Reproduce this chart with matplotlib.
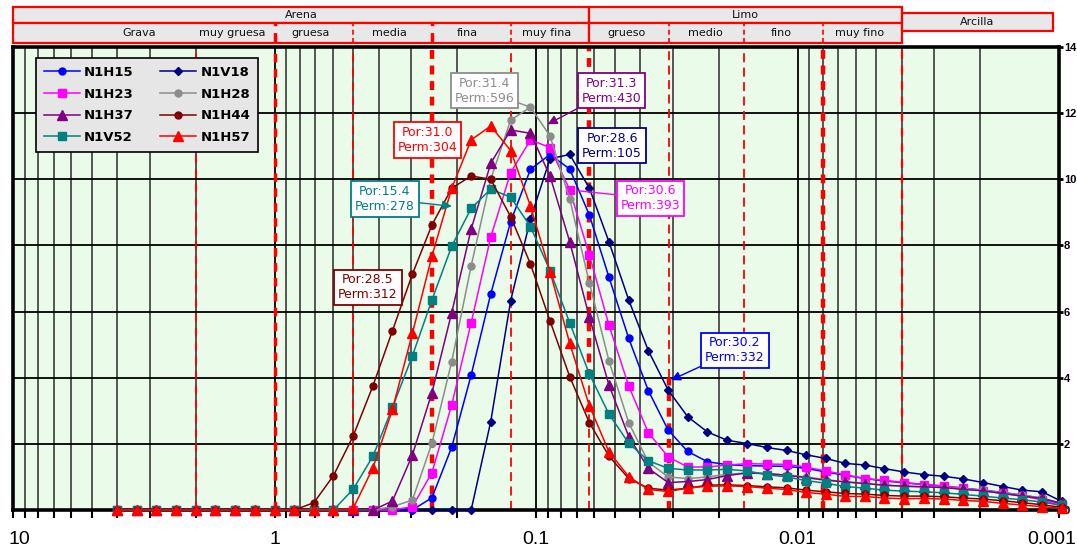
import matplotlib
matplotlib.use("Agg")
import matplotlib.pyplot as plt
import matplotlib.transforms as mtrans
from matplotlib.patches import Rectangle
from matplotlib.ticker import FixedLocator, LogLocator, NullFormatter, FixedFormatter

# grain size classes (mm), quarter-phi steps
size_mm = [4.0, 3.364, 2.828, 2.378, 2.0, 1.682, 1.414, 1.189, 1.0, 0.841, 0.707, 0.595,
           0.5, 0.420, 0.354, 0.297, 0.25, 0.210, 0.177, 0.149, 0.125, 0.105, 0.0884, 0.0743,
           0.0625, 0.0526, 0.0442, 0.0372, 0.03125, 0.0263, 0.0221, 0.0186, 0.0156, 0.0131,
           0.0110, 0.00929, 0.00781, 0.00657, 0.00552, 0.00465, 0.00391, 0.00328, 0.00276,
           0.00232, 0.00195, 0.00164, 0.00138, 0.00116, 0.000977]

N1H15 = [0]*16 + [0.37, 1.9, 4.08, 6.53, 8.72, 10.3, 10.75, 10.31, 8.92, 7.04,
                  5.19, 3.61, 2.42, 1.77, 1.46, 1.37, 1.34, 1.33, 1.32, 1.26,
                  1.15, 1.05, 0.95, 0.88, 0.82, 0.77, 0.72, 0.66, 0.6, 0.53,
                  0.45, 0.35, 0.18]
N1V18 = [0]*19 + [2.67, 6.33, 8.8, 10.62, 10.75, 9.73, 8.11, 6.35, 4.82, 3.63,
                  2.82, 2.36, 2.11, 2.01, 1.89, 1.80, 1.67, 1.56, 1.41, 1.36,
                  1.25, 1.15, 1.07, 1.02, 0.94, 0.83, 0.71, 0.60, 0.55, 0.26]
N1H23 = [0]*15 + [0.1, 1.13, 3.18, 5.66, 8.25, 10.2, 11.19, 10.96, 9.68, 7.71,
                  5.59, 3.75, 2.34, 1.61, 1.3, 1.3, 1.36, 1.4, 1.39, 1.38,
                  1.3, 1.18, 1.07, 0.95, 0.9, 0.83, 0.77, 0.73, 0.66, 0.58,
                  0.5, 0.42, 0.31, 0.12]
N1H28 = [0]*14 + [0.1, 0.3, 2.02, 4.49, 7.38, 10.0, 11.79, 12.18, 11.31, 9.4,
                  6.87, 4.51, 2.64, 1.45, 1.0, 0.95, 1.0, 1.08, 1.12, 1.1,
                  1.06, 1.0, 0.92, 0.85, 0.8, 0.75, 0.72, 0.7, 0.68, 0.64,
                  0.6, 0.52, 0.45, 0.36, 0.2]
N1H37 = [0]*14 + [0.27, 1.66, 3.55, 5.97, 8.49, 10.48, 11.49, 11.39, 10.1, 8.11,
                  5.83, 3.78, 2.22, 1.26, 0.83, 0.86, 0.92, 1.04, 1.12, 1.1,
                  1.05, 0.98, 0.9, 0.85, 0.8, 0.75, 0.72, 0.7, 0.68, 0.62,
                  0.58, 0.5, 0.42, 0.35, 0.2]
N1H44 = [0]*10 + [0.22, 1.04, 2.24, 3.76, 5.42, 7.13, 8.62, 9.73, 10.1, 10.0,
                  8.87, 7.44, 5.72, 4.03, 2.64, 1.63, 0.95, 0.66, 0.6, 0.66,
                  0.75, 0.76, 0.74, 0.7, 0.67, 0.6, 0.55, 0.5, 0.48, 0.44,
                  0.42, 0.42, 0.4, 0.36, 0.33, 0.28, 0.22, 0.16, 0.08]
N1V52 = [0]*12 + [0.63, 1.63, 3.1, 4.66, 6.35, 7.98, 9.12, 9.7, 9.46, 8.57,
                  7.24, 5.66, 4.11, 2.9, 2.02, 1.49, 1.26, 1.21, 1.21, 1.23,
                  1.18, 1.07, 1.0, 0.89, 0.81, 0.71, 0.66, 0.6, 0.57, 0.55,
                  0.52, 0.47, 0.42, 0.36, 0.31, 0.24, 0.14]
N1H57 = [0]*12 + [0.05, 1.28, 3.04, 5.34, 7.68, 9.73, 11.19, 11.61, 10.87, 9.19,
                  7.21, 5.04, 3.15, 1.76, 1.01, 0.62, 0.56, 0.66, 0.72, 0.73,
                  0.71, 0.66, 0.62, 0.53, 0.48, 0.41, 0.41, 0.36, 0.34, 0.35,
                  0.33, 0.29, 0.26, 0.20, 0.15, 0.10, 0.05]

series = {
    "N1H15": (N1H15, "#0000FF", "o", 5.0),
    "N1V18": (N1V18, "#000080", "D", 4.5),
    "N1H23": (N1H23, "#FF00FF", "s", 5.5),
    "N1H28": (N1H28, "#8C8C8C", "o", 5.0),
    "N1H37": (N1H37, "#800080", "^", 6.5),
    "N1H44": (N1H44, "#800000", "o", 5.0),
    "N1V52": (N1V52, "#008080", "s", 5.5),
    "N1H57": (N1H57, "#FF0000", "^", 6.5),
}
draw_order = ["N1V18", "N1H15", "N1H23", "N1H28", "N1H37", "N1V52", "N1H44", "N1H57"]
legend_order = ["N1H15", "N1H23", "N1H37", "N1V52", "N1V18", "N1H28", "N1H44", "N1H57"]

# class boundaries (mm) and names
bounds = [2, 1, 0.5, 0.25, 0.125, 0.0625, 0.031, 0.016, 0.008, 0.004]
sub_names = ["Grava", "muy gruesa", "gruesa", "media", "fina", "muy fina",
             "grueso", "medio", "fino", "muy fino"]
sub_pos = [3.3, 1.45, 0.73, 0.365, 0.183, 0.091, 0.045, 0.0225, 0.0115, 0.0058]

x_ticks = [10, 1, 0.1, 0.01, 0.001]
x_ticklabels = ["10", "1", "0.1", "0.01", "0.001"]
y_ticks = [0, 2, 4, 6, 8, 10, 12, 14]

W, H = 1077, 552
fig = plt.figure(figsize=(W / 100, H / 100), dpi=100)
ax = fig.add_axes([13 / W, 1 - 510 / H, 1046 / W, 463 / H])
ax.set_facecolor("#eafbea")
ax.set_xscale("log")
ax.set_xlim(10, 0.001)
ax.set_ylim(0, 14)

ax.xaxis.set_major_locator(FixedLocator(x_ticks))
ax.xaxis.set_major_formatter(FixedFormatter(x_ticklabels))
ax.xaxis.set_minor_locator(LogLocator(base=10, subs=range(2, 10), numticks=30))
ax.xaxis.set_minor_formatter(NullFormatter())
ax.set_yticks(y_ticks)
ax.set_yticklabels([str(v) for v in y_ticks], fontweight="bold", fontsize=8,
                   family="Liberation Sans")
ax.yaxis.tick_right()
ax.tick_params(axis="y", which="both", direction="out", length=3, width=2, pad=0.5)
ax.tick_params(axis="x", which="both", direction="out", length=6, width=1.5, pad=9, labelsize=14)
for lab in ax.get_xticklabels():
    lab.set_family("Liberation Sans")

ax.set_axisbelow(True)
ax.grid(True, which="major", axis="both", color="black", lw=1.3)
ax.grid(True, which="minor", axis="x", color="#3a3a3a", lw=1.2)
for sp in ax.spines.values():
    sp.set_linewidth(2.6)
    sp.set_color("black")

# class boundary dashed lines
blend = mtrans.blended_transform_factory(ax.transData, ax.transAxes)
thin = (1.3, (5, 3))
thick = (3.2, (2, 1.5))
styles = {
    2: [(0, 1) + thin],
    1: [(0, 1, 2.5, (2.5, 1.8))],
    0.5: [(0, 1) + thin],
    0.25: [(0, 1) + thick],
    0.125: [(0, 1) + thin],
    0.0625: [(4 / 14, 1) + thick, (0, 4 / 14) + thin],
    0.031: [(0, 4 / 14) + thick, (4 / 14, 1) + thin],
    0.016: [(0, 1) + thin],
    0.008: [(0, 1) + thick],
    0.004: [(0, 1, 1.6, (4, 3))],
}
for b in bounds:
    for y0, y1, lw, dash in styles[b]:
        ax.plot([b, b], [y0, y1], transform=blend, color="red", lw=lw,
                dashes=dash, zorder=1.5, clip_on=False)

# header boxes
r2_lo, r2_hi, r1_hi = 1.0086, 1.0518, 1.0864
hdr_fc = "#e8e8e8"
for x0, x1 in [(10, 0.0625), (0.0625, 0.004)]:
    for y0, y1 in [(r2_hi, r1_hi), (r2_lo, r2_hi)]:
        ax.add_patch(Rectangle((x0, y0), x1 - x0, y1 - y0, transform=blend,
                               fc=hdr_fc, ec="red", lw=1.6, clip_on=False, zorder=5))
ax.add_patch(Rectangle((0.004, 1.0346), 0.00105 - 0.004, 1.0734 - 1.0346,
                       transform=blend, fc=hdr_fc, ec="red", lw=1.6, clip_on=False, zorder=5))
for b in [1, 0.5, 0.25, 0.125, 0.031, 0.016, 0.008]:
    lw = 2.5 if b in (1, 0.25) else 1.2
    ax.plot([b, b], [r2_lo, r2_hi], transform=blend, color="red", lw=lw,
            dashes=(3, 2), clip_on=False, zorder=6)
hfont = dict(fontsize=8, color="#111111", ha="center", va="center",
             transform=blend, clip_on=False, zorder=7)
ax.text((10 * 0.0625) ** 0.5, (r2_hi + r1_hi) / 2, "Arena", **hfont)
ax.text((0.0625 * 0.004) ** 0.5, (r2_hi + r1_hi) / 2, "Limo", **hfont)
ax.text((0.004 * 0.00105) ** 0.5, (1.0346 + 1.0734) / 2, "Arcilla", **hfont)
for name, pos in zip(sub_names, sub_pos):
    ax.text(pos, (r2_lo + r2_hi) / 2, name, **hfont)

# data
handles = {}
for name in draw_order:
    vals, col, mk, ms = series[name]
    ln, = ax.plot(size_mm, vals, color=col, lw=1.1, marker=mk, ms=ms, mfc=col, mec=col,
                  zorder=3, clip_on=False, label=name)
    handles[name] = ln

leg = ax.legend([handles[n] for n in legend_order], legend_order, ncol=2,
                loc="upper left", bbox_to_anchor=((36 - 13) / 1046, (510 - 58) / 463),
                borderaxespad=0, frameon=True, fancybox=False, framealpha=1,
                facecolor="#e6e6e6", edgecolor="black",
                prop=dict(weight="bold", size=9.5), handlelength=2.7,
                handletextpad=0.35, columnspacing=2.0, labelspacing=0.66, borderpad=0.6)
leg.get_frame().set_linewidth(1.2)
leg.set_zorder(8)

# annotations
fs = 9
def box(c):
    return dict(boxstyle="square,pad=0.3", fc="white", ec=c, lw=1.3)

notes = [
    ("Por:31.4\nPerm:596", "N1H28", 21, (0.4508, 0.906), "-", 2),
    ("Por:31.3\nPerm:430", "N1H37", 21, (0.5722, 0.906), "-|>", 14),
    ("Por:15.4\nPerm:278", "N1V52", 18, (0.3556, 0.6717), "-|>", 14),
    ("Por:30.6\nPerm:393", "N1H23", 23, (0.6095, 0.6728), "-", 6),
    ("Por:30.2\nPerm:332", "N1H15", 27, (0.6902, 0.3445), "-|>", 18),
]
for txt, name, idx, pos, style, shr in notes:
    vals, col = series[name][0], series[name][1]
    ax.annotate(txt, xy=(size_mm[idx], vals[idx]), xycoords="data",
                xytext=pos, textcoords="axes fraction", ha="center", va="center",
                fontsize=fs, color=col, bbox=box(col), zorder=9,
                arrowprops=dict(arrowstyle=style, color=col, lw=1.0, shrinkA=0,
                                shrinkB=shr, mutation_scale=14))
plain = [
    ("Por:31.0\nPerm:304", "N1H57", (0.3963, 0.799)),
    ("Por:28.6\nPerm:105", "N1V18", (0.5727, 0.787)),
    ("Por:28.5\nPerm:312", "N1H44", (0.3394, 0.4806)),
]
for txt, name, pos in plain:
    col = series[name][1]
    ax.text(pos[0], pos[1], txt, transform=ax.transAxes, ha="center", va="center",
            fontsize=fs, color=col, bbox=box(col), zorder=9)

# edge tick labels shifted like the reference
xl = ax.get_xticklabels()
xl[0].set_horizontalalignment("left")
xl[0].set_transform(xl[0].get_transform() + mtrans.ScaledTranslation(-0.04, 0, fig.dpi_scale_trans))
xl[-1].set_horizontalalignment("right")
xl[-1].set_transform(xl[-1].get_transform() + mtrans.ScaledTranslation(0.175, 0, fig.dpi_scale_trans))

fig.savefig("out.png", dpi=100)
